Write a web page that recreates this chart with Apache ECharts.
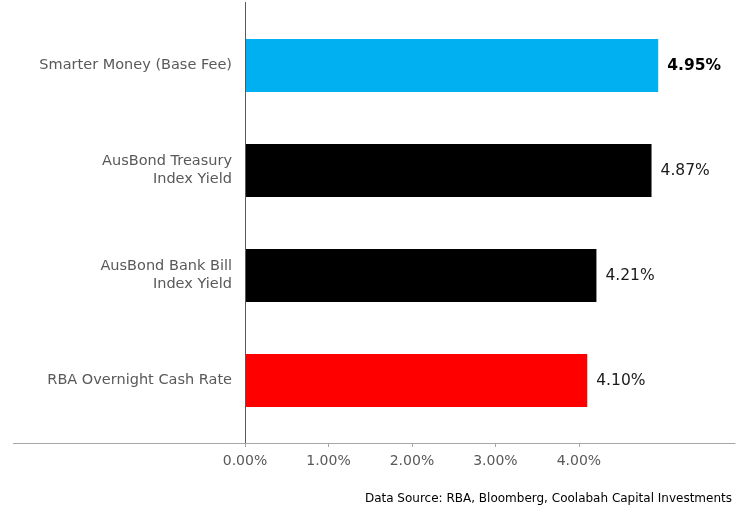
<!DOCTYPE html>
<html>
<head>
<meta charset="utf-8">
<script src="https://cdn.jsdelivr.net/npm/echarts@6/dist/echarts.min.js"></script>
<style>html,body{margin:0;padding:0;background:#fff;}#c{width:740px;height:511px;}</style>
</head>
<body>
<div id="c"></div>
<script>
var categories = ['Smarter Money (Base Fee)', 'AusBond Treasury\nIndex Yield', 'AusBond Bank Bill\nIndex Yield', 'RBA Overnight Cash Rate'];
var values = [4.95, 4.87, 4.21, 4.10];
var barColors = ['#00B0F0', '#000000', '#000000', '#FF0000'];
var tickValues = [0, 1, 2, 3, 4];
var sourceText = 'Data Source: RBA, Bloomberg, Coolabah Capital Investments';

var font = '"DejaVu Sans", Verdana, sans-serif';
var chart = echarts.init(document.getElementById('c'), null, {renderer: 'canvas'});
chart.setOption({
  animation: false,
  backgroundColor: '#ffffff',
  grid: {left: 245, right: 5, top: 13, bottom: 78, containLabel: false},
  xAxis: {
    type: 'value', min: 0, max: 5.87, interval: 1, offset: 10,
    splitLine: {show: false},
    axisLine: {show: true, lineStyle: {color: '#a6a6a6', width: 1}},
    axisTick: {show: true, length: 4, lineStyle: {color: '#a6a6a6'}, customValues: tickValues},
    axisLabel: {color: '#595959', fontSize: 14, fontFamily: font, margin: 11,
      customValues: tickValues,
      formatter: function (v) { return v.toFixed(2) + '%'; }}
  },
  yAxis: {
    type: 'category', data: categories, inverse: true,
    axisLine: {show: false}, axisTick: {show: false},
    axisLabel: {color: '#595959', fontSize: 14.5, fontFamily: font, margin: 13, lineHeight: 18, align: 'right'}
  },
  series: [{
    type: 'bar', barWidth: 53,
    data: values.map(function (v, i) {
      return {value: v, itemStyle: {color: barColors[i]},
        label: {fontWeight: i === 0 ? 'bold' : 'normal', color: i === 0 ? '#000' : '#1a1a1a'}};
    }),
    label: {show: true, position: 'right', distance: 9, fontSize: 15.5, fontFamily: font,
      formatter: function (p) { return p.value.toFixed(2) + '%'; }}
  }],
  graphic: [
    {type: 'line', z: 100, shape: {x1: 245.5, y1: 2, x2: 245.5, y2: 443}, style: {stroke: '#595959', lineWidth: 1}},
    {type: 'line', z: 100, shape: {x1: 13, y1: 443.5, x2: 245, y2: 443.5}, style: {stroke: '#a6a6a6', lineWidth: 1}},
    {type: 'text', right: 8, top: 493, style: {text: sourceText, fill: '#000', font: '12px ' + font}}
  ]
});
</script>
</body>
</html>
